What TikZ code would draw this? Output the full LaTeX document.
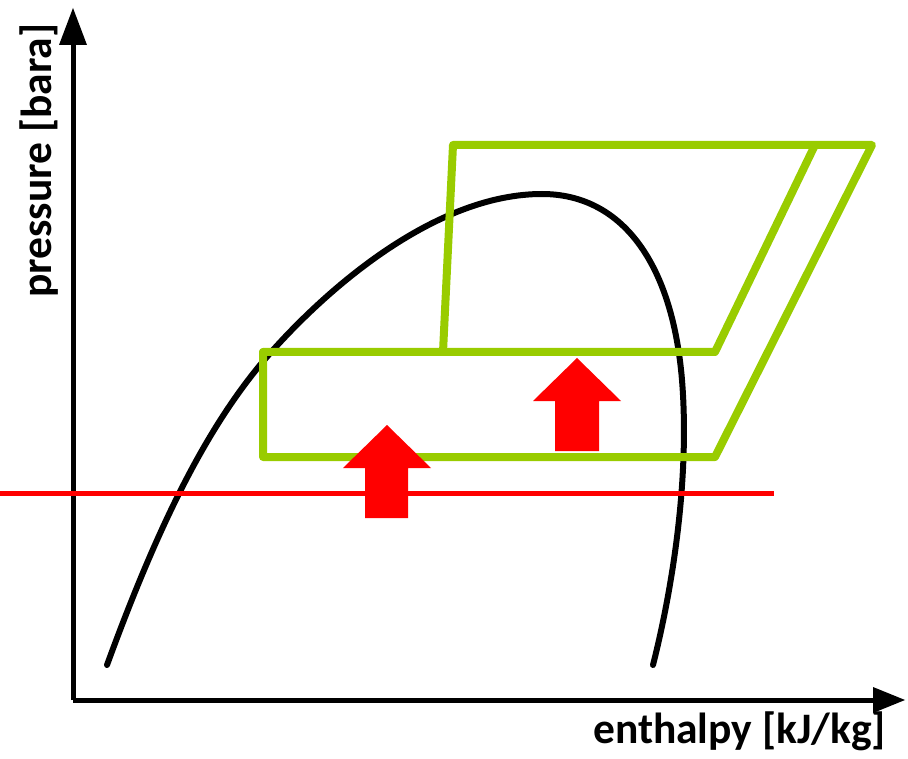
\documentclass[tikz,border=0pt]{standalone}
\usepackage{fontspec}
\setmainfont{Carlito}
\begin{document}
\begin{tikzpicture}[x=1pt,y=-1pt,
  axis/.style={line width=5pt,black},
  curve/.style={line width=6pt,black,line cap=round},
  cycle/.style={line width=8pt,draw={rgb,255:red,153;green,204;blue,0},line join=round,line cap=round},
  redline/.style={line width=5pt,red},
  redarrow/.style={fill=red,draw=none},
  lab/.style={font=\fontsize{43.5}{46}\selectfont\bfseries,inner sep=0pt}]
\useasboundingbox (0,0) rectangle (908,759);
% axes
\coordinate (O) at (73,700);
\coordinate (Ytop) at (73,45);
\coordinate (Xend) at (874,700);
\draw[axis] (O) -- (Ytop);
\draw[axis] (O) -- (Xend);
\fill (59,45) -- (87,45) -- (73,8) -- cycle;
\fill (873,687) -- (873,713) -- (905,700) -- cycle;
\node[lab,anchor=base west] (xl) at (593,743) {enthalpy [kJ/kg]};
\node[lab,anchor=base west,rotate=90] (yl) at (51,298) {pressure [bara]};
% saturation dome
\coordinate (d0) at (107,665);
\coordinate (d1) at (273,350);
\coordinate (d2) at (542,194);
\coordinate (d3) at (682,380);
\coordinate (d4) at (653,665);
\draw[curve] (d0) .. controls (160,520) and (210,420) .. (d1)
  .. controls (336,280) and (440,194) .. (d2)
  .. controls (620,194) and (672,260) .. (d3)
  .. controls (690,480) and (672,590) .. (d4);
% red line
\draw[redline] (0,493) -- (774,493);
% green cycles
\draw[cycle] (263,352) -- (715,352) -- (815,145);
\draw[cycle] (443,352) -- (453,145) -- (872,145) -- (715,457) -- (263,457) -- (263,352);
% red arrows
\fill[redarrow] (365,518) -- (365,468) -- (343,468) -- (387,425) -- (431,468) -- (408,468) -- (408,518) -- cycle;
\fill[redarrow] (555,451) -- (555,401) -- (533,401) -- (577,358) -- (621,401) -- (599,401) -- (599,451) -- cycle;
\end{tikzpicture}
\end{document}
